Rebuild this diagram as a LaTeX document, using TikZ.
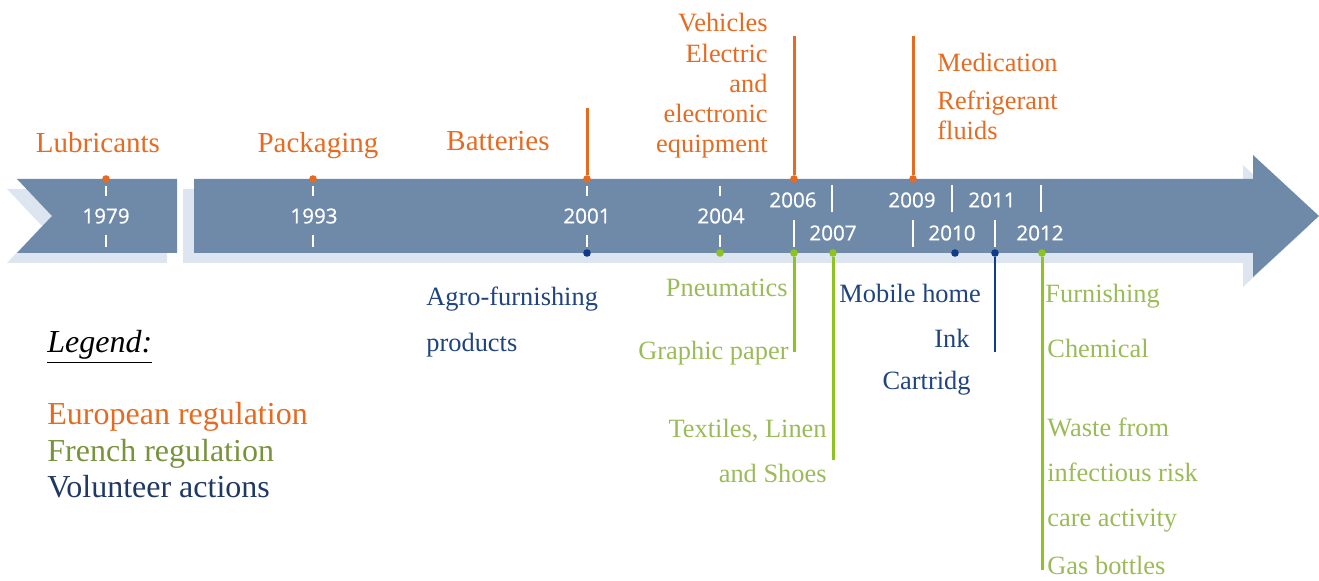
\documentclass[tikz,border=0pt]{standalone}
\usepackage{fontspec}
\setmainfont{Liberation Serif}
\newfontfamily\yrfont[FakeBold=0.8]{Open Sans}
\usepackage{xcolor}
\definecolor{bandblue}{RGB}{111,138,168}
\definecolor{bandshade}{RGB}{221,229,240}
\definecolor{eucol}{RGB}{230,106,32}
\definecolor{frline}{RGB}{141,196,32}
\definecolor{frtext}{RGB}{155,187,89}
\definecolor{frlegend}{RGB}{119,147,60}
\definecolor{votext}{RGB}{31,68,128}
\definecolor{volegend}{RGB}{31,56,100}
\definecolor{voline}{RGB}{16,58,138}
\tikzset{
    bandsty/.style={fill=bandblue},
    shadsty/.style={fill=bandshade},
    yrsty/.style={text=white,inner sep=0pt,anchor=center,font=\yrfont\fontsize{10.3}{12}\selectfont},
    tksty/.style={draw=white,line width=1.3pt},
    bigsty/.style={inner sep=0pt,anchor=base,font=\fontsize{14.5}{17}\selectfont},
    lblsty/.style={inner sep=0pt,font=\fontsize{13.2}{16}\selectfont},
    lgsty/.style={inner sep=0pt,anchor=base west,font=\fontsize{16}{19}\selectfont},
    eusty/.style={text=eucol},
    frsty/.style={text=frtext},
    vosty/.style={text=votext},
    dotsty/.style={circle,inner sep=0pt,minimum size=3.8pt},
    eulnsty/.style={draw=eucol,line width=1.5pt},
    frlnsty/.style={draw=frline,line width=1.5pt},
    volnsty/.style={draw=voline,line width=1.3pt},
}

\begin{document}
\begin{tikzpicture}[x=0.5pt,y=-0.5pt]
  \useasboundingbox (0,0) rectangle (1319,581);

  \fill[shadsty] (7,189) -- (167,189) -- (167,263) -- (7,263) -- (42,226) -- cycle;
  \fill[shadsty] (183,189) -- (1243,189) -- (1243,165) -- (1309,226) -- (1243,287) -- (1243,263) -- (183,263) -- cycle;
  \fill[bandsty] (17,179) -- (177,179) -- (177,253) -- (17,253) -- (52,216) -- cycle;
  \fill[bandsty] (194,179) -- (1253,179) -- (1253,155) -- (1319,216) -- (1253,277) -- (1253,253) -- (194,253) -- cycle;

  \foreach \x in {106,313,587,720} {
    \draw[tksty] (\x,186) -- (\x,196);
    \draw[tksty] (\x,235) -- (\x,247);
  }
  \foreach \x in {794,913,995} \draw[tksty] (\x,220) -- (\x,247);
  \foreach \x in {832,952,1041} \draw[tksty] (\x,185) -- (\x,212);

  \node[yrsty] (y1979) at (106,216) {1979};
  \node[yrsty] (y1993) at (314,216) {1993};
  \node[yrsty] (y2001) at (587,216) {2001};
  \node[yrsty] (y2004) at (721,216) {2004};
  \node[yrsty] (y2006) at (793,200) {2006};
  \node[yrsty] (y2007) at (833,233) {2007};
  \node[yrsty] (y2009) at (912,200) {2009};
  \node[yrsty] (y2010) at (952,233) {2010};
  \node[yrsty] (y2011) at (992,200) {2011};
  \node[yrsty] (y2012) at (1040,233) {2012};

  \node[dotsty,fill=eucol] (e1979) at (106,179) {};
  \node[dotsty,fill=eucol] (e1993) at (313,179) {};
  \node[dotsty,fill=eucol] (e2001) at (587,179) {};
  \node[dotsty,fill=eucol] (e2006) at (794,179) {};
  \node[dotsty,fill=eucol] (e2009) at (913,179) {};
  \node[dotsty,fill=voline] (v2001) at (587,253) {};
  \node[dotsty,fill=frline] (f2004) at (720,253) {};
  \node[dotsty,fill=frline] (f2006) at (794,253) {};
  \node[dotsty,fill=frline] (f2007) at (833,253) {};
  \node[dotsty,fill=voline] (v2010) at (955,253) {};
  \node[dotsty,fill=voline] (v2011) at (995,253) {};
  \node[dotsty,fill=frline] (f2012) at (1042,253) {};

  \coordinate (e2001end) at (587,108);
  \coordinate (e2006end) at (794,36);
  \coordinate (e2009end) at (913,36);
  \coordinate (f2006end) at (794,352);
  \coordinate (f2007end) at (833,460);
  \coordinate (v2011end) at (995,352);
  \coordinate (f2012end) at (1042,570);
  \draw[eulnsty] (e2001) -- (e2001end);
  \draw[eulnsty] (e2006) -- (e2006end);
  \draw[eulnsty] (e2009) -- (e2009end);
  \draw[frlnsty] (f2006) -- (f2006end);
  \draw[frlnsty] (f2007) -- (f2007end);
  \draw[volnsty] (v2011) -- (v2011end);
  \draw[frlnsty] (f2012) -- (f2012end);

  \node[bigsty,eusty] (lubr) at (98,153) {Lubricants};
  \node[bigsty,eusty] (pack) at (318,153) {Packaging};
  \node[bigsty,eusty] (batt) at (498,151) {Batteries};

  \node[lblsty,eusty,anchor=base east] (vehi) at (768,32) {Vehicles};
  \node[lblsty,eusty,anchor=base east] (elec) at (768,63) {Electric};
  \node[lblsty,eusty,anchor=base east] (andw) at (768,93) {and};
  \node[lblsty,eusty,anchor=base east] (eltr) at (768,123) {electronic};
  \node[lblsty,eusty,anchor=base east] (equi) at (768,153) {equipment};
  \node[lblsty,eusty,anchor=base west] (medi) at (937,72) {Medication};
  \node[lblsty,eusty,anchor=base west] (refr) at (937,110) {Refrigerant};
  \node[lblsty,eusty,anchor=base west] (flui) at (937,140) {fluids};

  \node[lblsty,vosty,anchor=base west] (agro) at (426,306) {Agro-furnishing};
  \node[lblsty,vosty,anchor=base west] (prod) at (426,352) {products};
  \node[lblsty,frsty,anchor=base east] (pneu) at (788,297) {Pneumatics};
  \node[lblsty,frsty,anchor=base east] (grap) at (789,360) {Graphic paper};
  \node[lblsty,frsty,anchor=base east] (text) at (827,438) {Textiles, Linen};
  \node[lblsty,frsty,anchor=base east] (shoe) at (827,483) {and Shoes};
  \node[lblsty,vosty,anchor=base west] (mobi) at (839,303) {Mobile home};
  \node[lblsty,vosty,anchor=base east] (inkw) at (970,348) {Ink};
  \node[lblsty,vosty,anchor=base east] (cart) at (971,390) {Cartridg};
  \node[lblsty,frsty,anchor=base west] (furn) at (1045,303) {Furnishing};
  \node[lblsty,frsty,anchor=base west] (chem) at (1047,358) {Chemical};
  \node[lblsty,frsty,anchor=base west] (wast) at (1047,437) {Waste from};
  \node[lblsty,frsty,anchor=base west] (infe) at (1047,482) {infectious risk};
  \node[lblsty,frsty,anchor=base west] (care) at (1047,527) {care activity};
  \node[lblsty,frsty,anchor=base west] (gasb) at (1047,575) {Gas bottles};

  \node[lgsty] (lgnd) at (47,353) {\underline{\textit{Legend:}}};
  \node[lgsty,text=eucol] (lgeu) at (47,425) {European regulation};
  \node[lgsty,text=frlegend] (lgfr) at (47,462) {French regulation};
  \node[lgsty,text=volegend] (lgvo) at (47,498) {Volunteer actions};
\end{tikzpicture}
\end{document}
